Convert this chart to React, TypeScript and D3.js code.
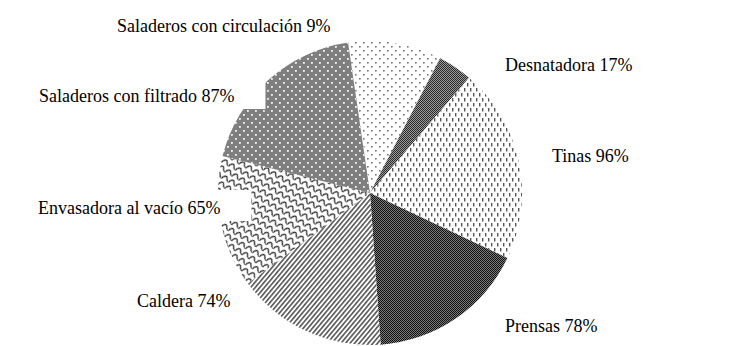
import React, { useEffect, useRef } from "react";
import * as d3 from "d3";

// Slice order clockwise from the top
const categories = [
  "Saladeros con circulación",
  "Desnatadora",
  "Tinas",
  "Prensas",
  "Caldera",
  "Envasadora al vacío",
  "Saladeros con filtrado",
];
// percentages printed in the labels
const labelPercents = [9, 17, 96, 78, 74, 65, 87];
// relative slice sizes as drawn in the picture
const sliceShares = [46, 17, 96, 78, 74, 65, 87];

const W = 739;
const H = 346;

export default function App() {
  const ref = useRef<SVGSVGElement | null>(null);

  useEffect(() => {
    const svg = d3.select(ref.current);
    svg.selectAll("*").remove();
    const defs = svg.append("defs");

    // circulación: white with grey dots
    const p0 = defs.append("pattern").attr("id", "p0").attr("patternUnits", "userSpaceOnUse").attr("width", 8).attr("height", 8);
    p0.append("rect").attr("width", 8).attr("height", 8).attr("fill", "#fff");
    p0.append("rect").attr("x", 1).attr("y", 1).attr("width", 1.6).attr("height", 1.6).attr("fill", "#777");
    p0.append("rect").attr("x", 5).attr("y", 5).attr("width", 1.6).attr("height", 1.6).attr("fill", "#777");

    // Desnatadora: fine checker
    const p1 = defs.append("pattern").attr("id", "p1").attr("patternUnits", "userSpaceOnUse").attr("width", 2).attr("height", 2);
    p1.append("rect").attr("width", 2).attr("height", 2).attr("fill", "#2a2a2a");
    p1.append("rect").attr("x", 0).attr("y", 0).attr("width", 1).attr("height", 1).attr("fill", "#9a9a9a");
    p1.append("rect").attr("x", 1).attr("y", 1).attr("width", 1).attr("height", 1).attr("fill", "#9a9a9a");

    // Tinas: vertical dashes
    const p2 = defs.append("pattern").attr("id", "p2").attr("patternUnits", "userSpaceOnUse").attr("width", 6).attr("height", 10);
    p2.append("rect").attr("width", 6).attr("height", 10).attr("fill", "#fff");
    p2.append("rect").attr("x", 1).attr("y", 0).attr("width", 1.4).attr("height", 3.5).attr("fill", "#555");
    p2.append("rect").attr("x", 4).attr("y", 5).attr("width", 1.4).attr("height", 3.5).attr("fill", "#555");

    // Prensas: dark checker
    const p3 = defs.append("pattern").attr("id", "p3").attr("patternUnits", "userSpaceOnUse").attr("width", 2).attr("height", 2);
    p3.append("rect").attr("width", 2).attr("height", 2).attr("fill", "#111");
    p3.append("rect").attr("x", 0).attr("y", 0).attr("width", 1).attr("height", 1).attr("fill", "#7a7a7a");
    p3.append("rect").attr("x", 1).attr("y", 1).attr("width", 1).attr("height", 1).attr("fill", "#7a7a7a");

    // Caldera: diagonal lines "////"
    const p4 = defs.append("pattern").attr("id", "p4").attr("patternUnits", "userSpaceOnUse").attr("width", 3.5).attr("height", 3.5).attr("patternTransform", "rotate(40)");
    p4.append("rect").attr("width", 3.5).attr("height", 3.5).attr("fill", "#fff");
    p4.append("rect").attr("x", 0).attr("y", 0).attr("width", 1.6).attr("height", 3.5).attr("fill", "#555");

    // Envasadora: scale / wave pattern
    const p5 = defs.append("pattern").attr("id", "p5").attr("patternUnits", "userSpaceOnUse").attr("width", 8).attr("height", 7).attr("patternTransform", "rotate(30)");
    p5.append("rect").attr("width", 8).attr("height", 7).attr("fill", "#fff");
    p5.append("path").attr("d", "M0,5.5 C1,1 4,0.5 5,3 C5.5,4.5 6.5,5.6 8,5.5").attr("fill", "none").attr("stroke", "#222").attr("stroke-width", 1.2);

    // filtrado: grey with white dots
    const p6 = defs.append("pattern").attr("id", "p6").attr("patternUnits", "userSpaceOnUse").attr("width", 8).attr("height", 8);
    p6.append("rect").attr("width", 8).attr("height", 8).attr("fill", "#7f7f7f");
    p6.append("rect").attr("x", 1).attr("y", 1).attr("width", 1.8).attr("height", 1.8).attr("fill", "#f4f4f4");
    p6.append("rect").attr("x", 5).attr("y", 5).attr("width", 1.8).attr("height", 1.8).attr("fill", "#f4f4f4");

    const cx = 370;
    const cy = 193;
    const r = 152;
    const start = (-8.3 * Math.PI) / 180;
    const pie = d3
      .pie<number>()
      .sort(null)
      .value((d) => d)
      .startAngle(start)
      .endAngle(start + 2 * Math.PI);
    const arc = d3.arc<d3.PieArcDatum<number>>().innerRadius(0).outerRadius(r);

    const g = svg.append("g").attr("transform", `translate(${cx},${cy})`);
    g.selectAll("path")
      .data(pie(sliceShares))
      .join("path")
      .attr("d", arc)
      .attr("fill", (_, i) => `url(#p${i})`);

    // labels: [x, baseline, box extension to the right]
    const labelPos: [number, number, number][] = [
      [117, 32, 31],
      [505, 71, 31],
      [552, 162, 31],
      [505, 332, 31],
      [137, 307, 16],
      [38, 214, 31],
      [39, 102, 31],
    ];
    const lg = svg.append("g");
    categories.forEach((c, i) => {
      const [x, y, ext] = labelPos[i];
      const rect = lg.append("rect").attr("fill", "#fff");
      const t = lg
        .append("text")
        .attr("x", x)
        .attr("y", y)
        .style("font-family", "'Liberation Serif', 'Times New Roman', serif")
        .style("font-size", "18px")
        .attr("fill", "#000")
        .text(`${c} ${labelPercents[i]}%`);
      const w = (t.node() as SVGTextElement).getComputedTextLength();
      rect
        .attr("x", x - 4)
        .attr("y", y - 24)
        .attr("width", w + 4 + ext)
        .attr("height", 31);
    });
  }, []);

  return (
    <svg
      ref={ref}
      width={W}
      height={H}
      style={{ position: "absolute", left: 0, top: 0, background: "#fff" }}
    />
  );
}
